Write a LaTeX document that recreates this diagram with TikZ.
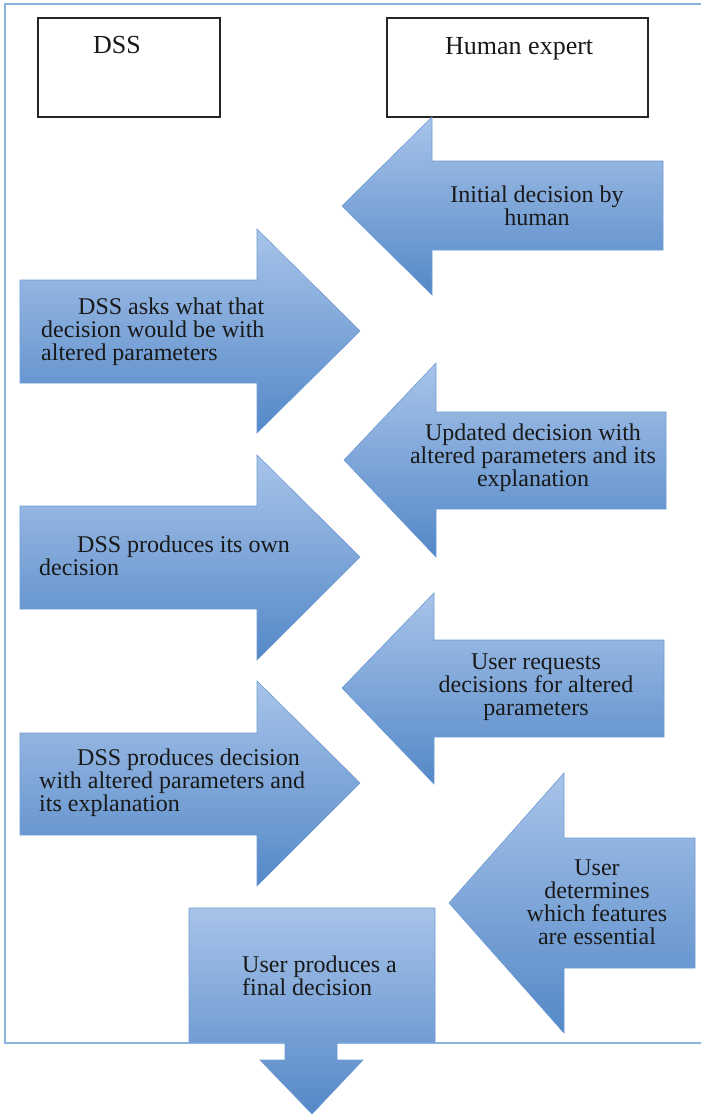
\documentclass[tikz,border=0pt]{standalone}
\usepackage{fontspec}
\setmainfont{Liberation Serif}
\definecolor{lightb}{RGB}{168,196,233}
\definecolor{darkb}{RGB}{84,136,200}
\definecolor{edgeb}{RGB}{110,155,210}
\definecolor{frameb}{RGB}{140,178,222}
\definecolor{txt}{RGB}{25,25,25}
\tikzset{
  blockarrow/.style={top color=lightb, bottom color=darkb, draw=edgeb, line width=0.6pt, line join=miter},
  headbox/.style={draw=black!85, line width=1.7pt, fill=white},
  headtxt/.style={font=\fontsize{26}{28}\selectfont, text=txt, inner sep=0pt},
  arrtxt/.style={font=\fontsize{24}{22.8}\selectfont, text=txt, inner sep=0pt},
}
\begin{document}
\begin{tikzpicture}[x=1pt,y=-1pt]
\useasboundingbox (0,0) rectangle (701,1116);
% outer frame
\draw[frameb, line width=1.6pt] (710,4) -- (5,4) -- (5,1043) -- (710,1043);
% header boxes
\draw[headbox] (38,18) rectangle (220,117);
\draw[headbox] (387,18) rectangle (648,117);
\node[headtxt, anchor=base west] (dss) at (93,53) {DSS};
\node[headtxt, anchor=base west] (hum) at (445,55) {Human expert};
% arrows
\shade[blockarrow] (663,161) -- (432,161) -- (432,117) -- (342,206) -- (432,295) -- (432,250) -- (663,250) -- cycle;
\shade[blockarrow] (20,280) -- (257,280) -- (257,229) -- (360,331) -- (257,433) -- (257,383) -- (20,383) -- cycle;
\shade[blockarrow] (666,412) -- (436,412) -- (436,363) -- (344,460) -- (436,557) -- (436,509) -- (666,509) -- cycle;
\shade[blockarrow] (20,506) -- (257,506) -- (257,455) -- (360,557) -- (257,660) -- (257,609) -- (20,609) -- cycle;
\shade[blockarrow] (664,640) -- (434,640) -- (434,593) -- (342,688) -- (434,784) -- (434,737) -- (664,737) -- cycle;
\shade[blockarrow] (20,733) -- (257,733) -- (257,681) -- (360,783) -- (257,886) -- (257,835) -- (20,835) -- cycle;
\shade[blockarrow] (695,838) -- (564,838) -- (564,773) -- (449,903) -- (564,1033) -- (564,968) -- (695,968) -- cycle;
\shade[blockarrow] (189,908) -- (435,908) -- (435,1042) -- (337,1042) -- (337,1060) -- (363,1060) -- (312,1114) -- (260,1060) -- (285,1060) -- (285,1042) -- (189,1042) -- cycle;
% texts (anchor base = baseline of last line)
\node[arrtxt, align=center, anchor=base] (t1) at (537,225) {Initial decision by\\human};
\node[arrtxt, align=left, anchor=base west] (t2) at (41,360) {\hspace*{37pt}DSS asks what that\\decision would be with\\altered parameters};
\node[arrtxt, align=center, anchor=base] (t3) at (533,486) {Updated decision with\\altered parameters and its\\explanation};
\node[arrtxt, align=left, anchor=base west] (t4) at (39,575) {\hspace*{38pt}DSS produces its own\\decision};
\node[arrtxt, align=center, anchor=base] (t5) at (536,715) {User requests\\decisions for altered\\parameters};
\node[arrtxt, align=left, anchor=base west] (t6) at (39,811) {\hspace*{38pt}DSS produces decision\\with altered parameters and\\its explanation};
\node[arrtxt, align=center, anchor=base] (t7) at (597,944) {User\\determines\\which features\\are essential};
\node[arrtxt, align=left, anchor=base west] (t8) at (242,995) {User produces a\\final decision};
\end{tikzpicture}
\end{document}
